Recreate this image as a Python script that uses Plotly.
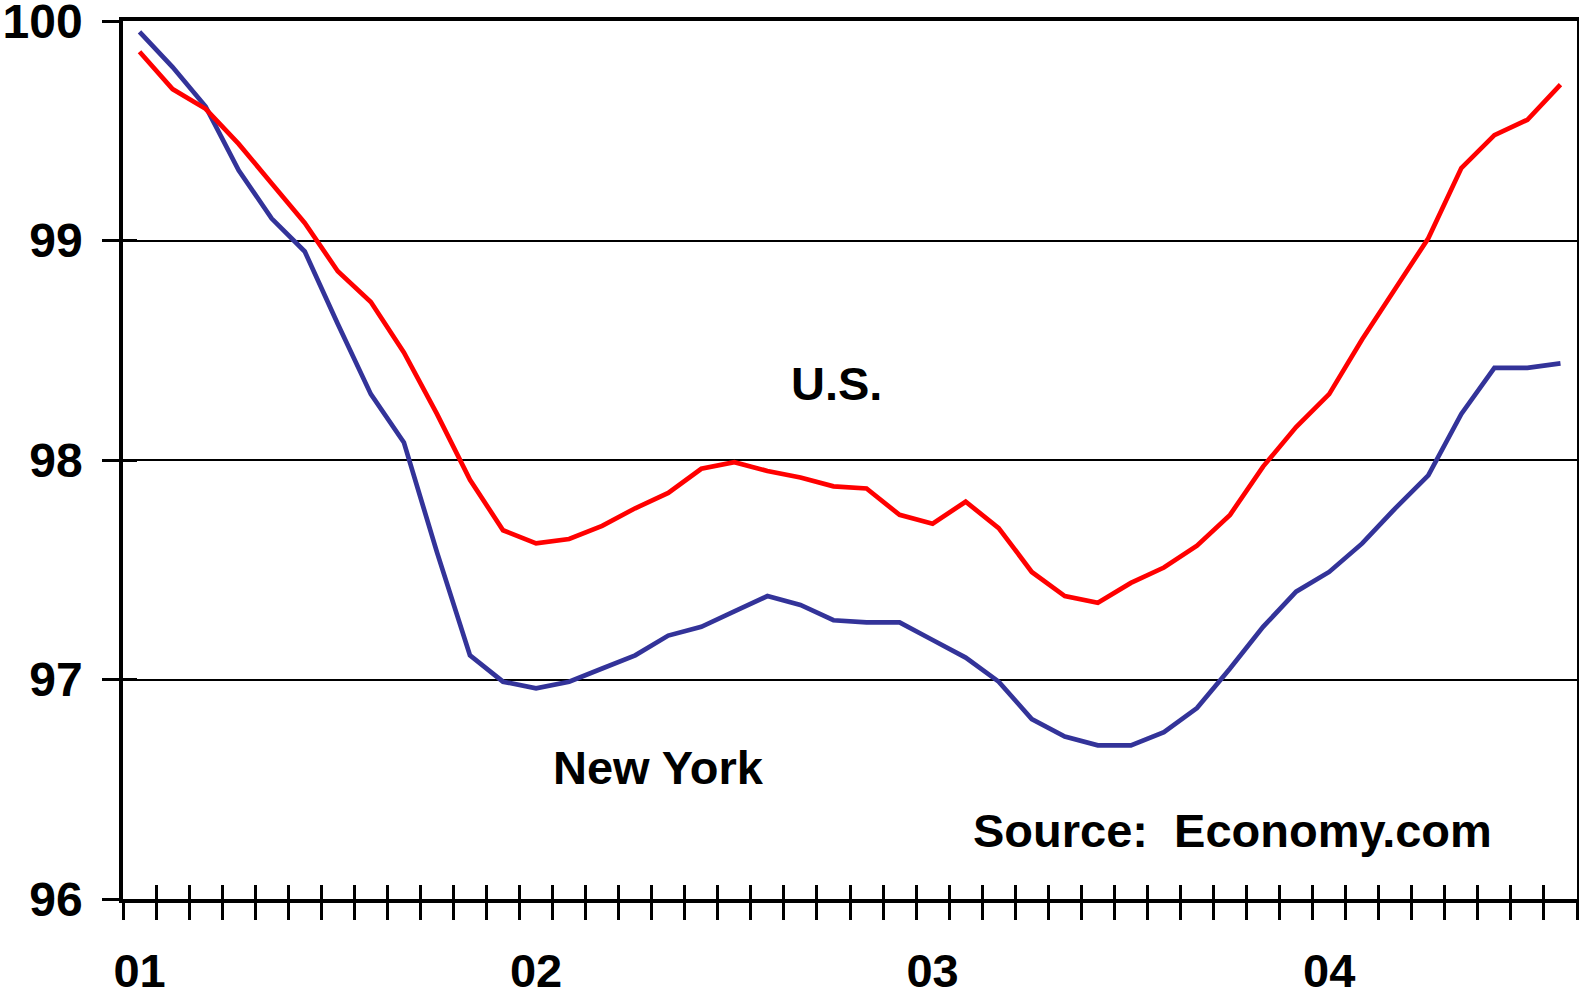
import plotly.graph_objects as go

months = list(range(44))  # Jan 2001 .. Aug 2004
year_ticks = [0, 12, 24, 36]
year_labels = ["01", "02", "03", "04"]

us = [99.86, 99.69, 99.60, 99.44, 99.26, 99.08, 98.86, 98.72, 98.49, 98.21,
      97.91, 97.68, 97.62, 97.64, 97.70, 97.78, 97.85, 97.96, 97.99, 97.95,
      97.92, 97.88, 97.87, 97.75, 97.71, 97.81, 97.69, 97.49, 97.38, 97.35,
      97.44, 97.51, 97.61, 97.75, 97.97, 98.15, 98.30, 98.55, 98.78, 99.01,
      99.33, 99.48, 99.55, 99.71]

ny = [99.95, 99.79, 99.61, 99.32, 99.10, 98.95, 98.62, 98.30, 98.08, 97.58,
      97.11, 96.99, 96.96, 96.99, 97.05, 97.11, 97.20, 97.24, 97.31, 97.38,
      97.34, 97.27, 97.26, 97.26, 97.18, 97.10, 96.99, 96.82, 96.74, 96.70,
      96.70, 96.76, 96.87, 97.05, 97.24, 97.40, 97.49, 97.62, 97.78, 97.93,
      98.21, 98.42, 98.42, 98.44]

FONT = "Liberation Sans, Arial, sans-serif"

fig = go.Figure()
fig.add_trace(go.Scatter(x=months, y=ny, mode="lines", name="New York",
                         line=dict(color="#333399", width=4.7)))
fig.add_trace(go.Scatter(x=months, y=us, mode="lines", name="U.S.",
                         line=dict(color="#FF0000", width=4.7)))
# invisible trace to carry the overlay axes (inner tick marks)
fig.add_trace(go.Scatter(x=[months[0]], y=[us[0]], xaxis="x2", yaxis="y2",
                         mode="markers", marker=dict(opacity=0), hoverinfo="skip",
                         showlegend=False))

xr = [-0.5, 43.5]
yr = [96, 100]

fig.update_layout(
    width=1579, height=997,
    margin=dict(l=123, r=2, t=21, b=98),
    paper_bgcolor="white", plot_bgcolor="white",
    showlegend=False,
    font=dict(family=FONT, color="black"),
    xaxis=dict(
        range=xr, tickmode="array", tickvals=year_ticks, ticktext=year_labels,
        ticks="outside", ticklen=28, tickcolor="rgba(0,0,0,0)",
        tickfont=dict(family=FONT, size=47, weight="bold", color="black"),
        minor=dict(tick0=-0.5, dtick=1, ticks="outside", ticklen=17,
                   tickwidth=3, tickcolor="black", showgrid=False),
        showgrid=False, zeroline=False, automargin=False,
        ticklabeloverflow="allow",
        showline=True, linecolor="black", linewidth=4, mirror=True,
    ),
    xaxis2=dict(
        range=xr, overlaying="x", anchor="y", side="bottom",
        tickmode="linear", tick0=-0.5, dtick=1, ticks="inside", ticklen=14,
        tickwidth=3, tickcolor="black", showticklabels=False, automargin=False,
        showgrid=False, zeroline=False, showline=False,
    ),
    yaxis=dict(
        range=yr, tickmode="linear", tick0=96, dtick=1,
        ticks="outside", ticklen=17, tickwidth=3, tickcolor="black",
        ticklabelstandoff=10, automargin=False, ticklabeloverflow="allow",
        tickfont=dict(family=FONT, size=48, weight="bold", color="black"),
        showgrid=True, gridcolor="black", gridwidth=1.5, zeroline=False,
        showline=True, linecolor="black", linewidth=3.5, mirror=True,
    ),
    yaxis2=dict(
        range=yr, overlaying="y", anchor="x", side="left",
        tickmode="linear", tick0=96, dtick=1, ticks="inside", ticklen=14,
        tickwidth=3, tickcolor="black", showticklabels=False, automargin=False,
        showgrid=False, zeroline=False, showline=False,
    ),
    annotations=[
        dict(x=21.1, y=98.35, xref="x", yref="y", text="U.S.", showarrow=False,
             font=dict(family=FONT, size=47, weight="bold", color="black")),
        dict(x=15.7, y=96.60, xref="x", yref="y", text="New York", showarrow=False,
             font=dict(family=FONT, size=47, weight="bold", color="black")),
        dict(x=33.07, y=96.31, xref="x", yref="y", text="Source:\u00a0 Economy.com",
             showarrow=False,
             font=dict(family=FONT, size=47, weight="bold", color="black")),
    ],
)

fig.write_html("out.html", config={"displayModeBar": False},
               post_script="document.body.style.margin='0';")
